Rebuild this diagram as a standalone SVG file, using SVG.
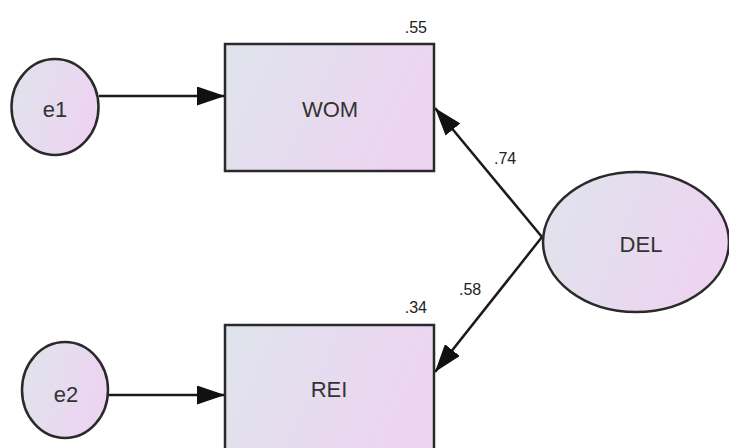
<svg xmlns="http://www.w3.org/2000/svg" width="729" height="448" viewBox="0 0 729 448">
  <defs>
    <linearGradient id="fill" x1="0" y1="0" x2="1" y2="0.3">
      <stop offset="0" stop-color="#dfe4ec"/>
      <stop offset="1" stop-color="#edd4f1"/>
    </linearGradient>
    <marker id="arrow" markerUnits="userSpaceOnUse" markerWidth="28" markerHeight="19" refX="28" refY="9.5" orient="auto" viewBox="0 0 28 19">
      <path d="M0,0 L28,9.5 L0,19 z" fill="#111"/>
    </marker>
    <style>
      .shape { fill: url(#fill); stroke: #2a2a2a; stroke-width: 2.5; }
      .lbl { font-family: "Liberation Sans", Arial, sans-serif; font-size: 22px; fill: #333; text-anchor: middle; }
      .num { font-family: "Liberation Sans", Arial, sans-serif; font-size: 16px; fill: #222; }
      .conn { stroke: #1a1a1a; stroke-width: 2.5; fill: none; marker-end: url(#arrow); }
    </style>
  </defs>
  <rect width="729" height="448" fill="#ffffff"/>

  <g id="connectors">
    <line class="conn" x1="99" y1="96" x2="225" y2="96"/>
    <line class="conn" x1="108" y1="395" x2="225" y2="395"/>
    <line class="conn" x1="542" y1="237" x2="435" y2="108"/>
    <line class="conn" x1="542" y1="237" x2="435" y2="372"/>
    <text class="num" x="494" y="164">.74</text>
    <text class="num" x="459" y="295">.58</text>
  </g>

  <g id="e1">
    <ellipse class="shape" cx="55" cy="107" rx="43.5" ry="48"/>
    <text class="lbl" x="55" y="117">e1</text>
  </g>

  <g id="WOM">
    <rect class="shape" x="225" y="44" width="209" height="127"/>
    <text class="lbl" x="330" y="117">WOM</text>
    <text class="num" x="427" y="33" text-anchor="end">.55</text>
  </g>

  <g id="e2">
    <ellipse class="shape" cx="65" cy="390" rx="43" ry="48"/>
    <text class="lbl" x="66" y="402">e2</text>
  </g>

  <g id="REI">
    <rect class="shape" x="225" y="325" width="209" height="140"/>
    <text class="lbl" x="329" y="397">REI</text>
    <text class="num" x="427" y="313" text-anchor="end">.34</text>
  </g>

  <g id="DEL">
    <ellipse class="shape" cx="636" cy="242" rx="93" ry="70"/>
    <text class="lbl" x="641" y="252">DEL</text>
  </g>
</svg>
